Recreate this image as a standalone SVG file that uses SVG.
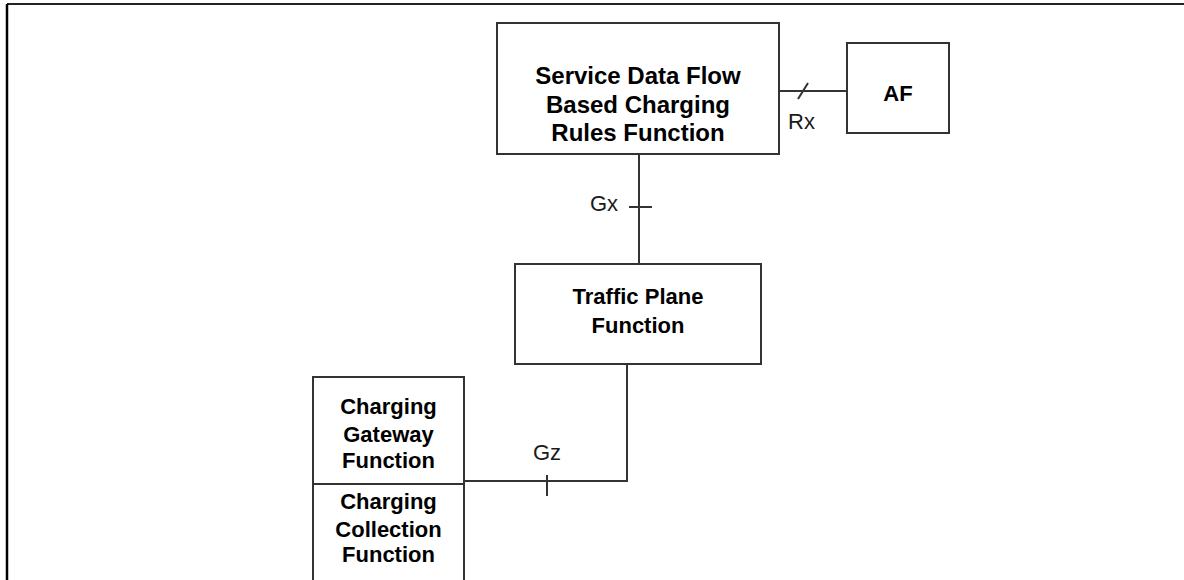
<svg xmlns="http://www.w3.org/2000/svg" width="1184" height="580" viewBox="0 0 1184 580">
<style>
.box{fill:#fff;stroke:#333;stroke-width:2}
.ln{fill:none;stroke:#333;stroke-width:2}
.t{font-family:"Liberation Sans",Arial,sans-serif;font-weight:bold;font-size:22px;fill:#000;text-anchor:middle}
.big{font-size:24px}
.lbl{font-family:"Liberation Sans",Arial,sans-serif;font-size:22px;fill:#1a1a1a}
</style>
<rect width="1184" height="580" fill="#fff"/>
<g id="frame">
<line x1="7" y1="4" x2="1184" y2="4" stroke="#222" stroke-width="2"/>
<line x1="7" y1="4" x2="7" y2="580" stroke="#000" stroke-width="2.5"/>
</g>
<g id="connectors">
<line class="ln" x1="779" y1="91" x2="847" y2="91"/>
<line class="ln" x1="798" y1="99" x2="808" y2="83"/>
<line class="ln" x1="639" y1="154" x2="639" y2="264"/>
<line class="ln" x1="629" y1="207" x2="652" y2="207"/>
<polyline class="ln" points="627,364 627,481 464,481"/>
<line class="ln" x1="547" y1="475" x2="547" y2="496"/>
<text class="lbl" x="788" y="129">Rx</text>
<text class="lbl" x="590" y="211">Gx</text>
<text class="lbl" x="547" y="460" text-anchor="middle">Gz</text>
</g>
<g id="sdf">
<rect class="box" x="497" y="23" width="282" height="131"/>
<text class="t big" x="638" y="84">Service Data Flow</text>
<text class="t big" x="638" y="112.5">Based Charging</text>
<text class="t big" x="638" y="141">Rules Function</text>
</g>
<g id="af">
<rect class="box" x="847" y="43" width="102" height="90"/>
<text class="t" x="898" y="101">AF</text>
</g>
<g id="tpf">
<rect class="box" x="515" y="264" width="246" height="100"/>
<text class="t" x="638" y="304">Traffic Plane</text>
<text class="t" x="638" y="333">Function</text>
</g>
<g id="cgf">
<rect class="box" x="313" y="377" width="151" height="107"/>
<text class="t" x="388.5" y="414">Charging</text>
<text class="t" x="388.5" y="441.5">Gateway</text>
<text class="t" x="388.5" y="468">Function</text>
</g>
<g id="ccf">
<rect class="box" x="313" y="484" width="151" height="100"/>
<text class="t" x="388.5" y="509">Charging</text>
<text class="t" x="388.5" y="536.5">Collection</text>
<text class="t" x="388.5" y="562">Function</text>
</g>
</svg>
